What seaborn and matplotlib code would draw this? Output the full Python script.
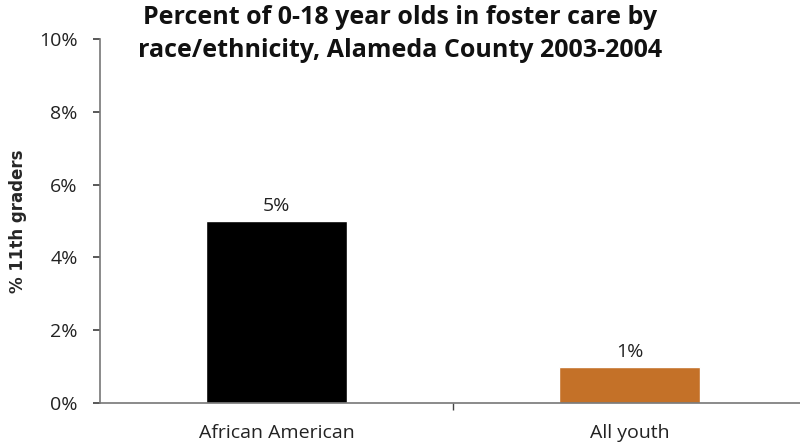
import matplotlib
matplotlib.use("Agg")
import matplotlib.pyplot as plt
import seaborn as sns
import pandas as pd
from matplotlib.ticker import FuncFormatter, FixedLocator

categories = ["African American", "All youth"]
values = [5, 1]
bar_labels = ["5%", "1%"]
colors = ["#000000", "#C47128"]
yticks = [0, 2, 4, 6, 8, 10]

sns.set_theme(style="white")
plt.rcParams['font.family'] = ['Open Sans', 'DejaVu Sans']

df = pd.DataFrame({"cat": categories, "val": values})

fig = plt.figure(figsize=(8, 4.47), dpi=100)
ax = fig.add_axes([100/800, 1 - 403/447, 706/800, (403-39)/447])

sns.barplot(data=df, x="cat", y="val", hue="cat", palette=colors, width=0.4,
            legend=False, ax=ax, saturation=1)

ax.set_ylim(0, 10)
ax.set_xlim(-0.5, 1.5)
ax.set_yticks(yticks)
ax.yaxis.set_major_formatter(FuncFormatter(lambda v, p: f"{int(v)}%"))
ax.set_xticks([0, 1])
ax.set_xticklabels(categories, fontsize=14, color="#222222")
ax.xaxis.set_minor_locator(FixedLocator([0.5]))
ax.tick_params(axis="x", which="major", length=0, pad=15)
ax.tick_params(axis="x", which="minor", length=5, color="#444444", direction="out", bottom=True)
ax.tick_params(axis="y", length=5, color="#444444", direction="out", left=True, labelsize=14,
               labelcolor="#222222", pad=11)

for s in ["top", "right"]:
    ax.spines[s].set_visible(False)
for s in ["left", "bottom"]:
    ax.spines[s].set_color("#777777")
    ax.spines[s].set_linewidth(1.2)

for c, lab in zip(ax.containers, [[l] for l in bar_labels]):
    ax.bar_label(c, labels=lab, padding=4, fontsize=14, color="#222222")

ax.set_xlabel("")
ax.set_ylabel("% 11th graders", fontsize=12, fontweight="bold", family=["DejaVu Sans"], labelpad=9)

fig.text(0.5, 1 - 34/447, "Percent of 0-18 year olds in foster care by\nrace/ethnicity, Alameda County 2003-2004",
         ha="center", va="center", fontsize=18, fontweight="bold", linespacing=1.45, color="#111111")

fig.savefig("out.png", dpi=100)
